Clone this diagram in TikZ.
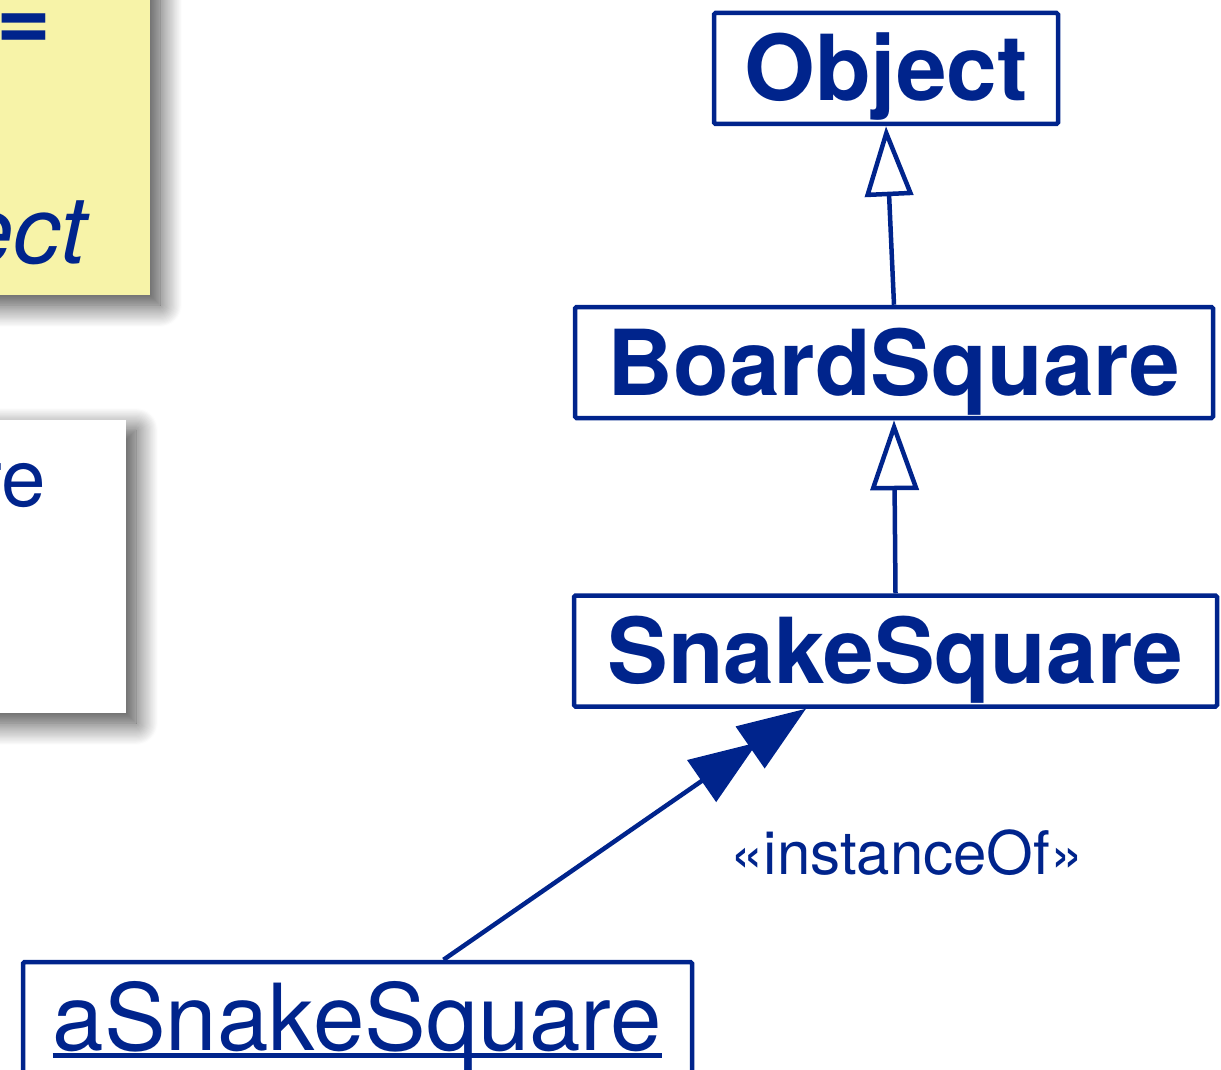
\documentclass[tikz,border=0pt]{standalone}
\usepackage{fontspec}
\setmainfont{TeX Gyre Heros}
\usetikzlibrary{positioning,arrows.meta,shadows.blur}
\definecolor{umlblue}{RGB}{0,36,140}
\definecolor{noteyellow}{RGB}{247,243,168}
\newcommand{\umlunderline}[1]{\setbox0\hbox{#1}\rlap{\rule[-8pt]{\wd0}{5pt}}\box0}

\begin{document}
\begin{tikzpicture}[%
    x=1pt, y=-1pt,
    classBox/.style={%
        draw=umlblue,
        line width=4.5pt,
        rounded corners=1.5pt,
        inner sep=0pt,
        minimum height=111pt,
        text height=65pt,
        text depth=0pt,
        text=umlblue,
        font=\fontsize{91}{100}\selectfont\bfseries
    },
    instanceBox/.style={%
        classBox,
        font=\fontsize{92.5}{100}\selectfont
    },
    slideNote/.style={%
        fill=noteyellow,
        inner sep=0pt,
        blur shadow={shadow xshift=10pt, shadow yshift=-10pt,
            shadow blur radius=22pt, shadow blur steps=20, shadow opacity=75}
    },
    whiteNote/.style={%
        slideNote,
        fill=white
    },
    noteText/.style={%
        inner sep=0pt,
        text=umlblue
    },
    stereo/.style={%
        inner sep=0pt,
        text=umlblue,
        text height=42pt,
        text depth=0pt,
        font=\fontsize{60}{66}\selectfont
    },
    genArrow/.style={%
        draw=umlblue,
        line width=4.5pt,
        -{Triangle[open, fill=white, length=70pt, width=48pt]}
    },
    instArrow/.style={%
        draw=umlblue,
        line width=4.5pt,
        -{Triangle[length=68pt, width=50pt, sep=-9pt]Triangle[length=68pt, width=50pt]}
    },
    >=stealth
]
\useasboundingbox (0,0) rectangle (1221,1070);
\clip (0,0) rectangle (1221,1070);

% Notes on the left (cut off)
    \node[slideNote, minimum width=200pt, minimum height=345pt] (yellowNote) at (50,122.5) {};
    \node[noteText, anchor=base east, font=\fontsize{94}{100}\selectfont\bfseries] (eqText) at (52,51) {=};
    \node[noteText, anchor=base east, font=\fontsize{94}{100}\selectfont\itshape] (ectText) at (87,263) {ect};
    \node[whiteNote, minimum width=176pt, minimum height=293pt] (whiteBox) at (38,566.5) {};
    \node[noteText, anchor=base east, font=\fontsize{80}{90}\selectfont] (reText) at (46,506) {re};

% Classes
    \node[classBox, minimum width=344pt] (object) at (886,68.5) {Object};
    \node[classBox, minimum width=638pt] (board) at (894,362.5) {BoardSquare};
    \node[classBox, minimum width=643pt] (snake) at (895.5,651) {SnakeSquare};

% Instance
    \node[instanceBox, minimum width=669pt] (inst) at (357.5,1017.5) {\umlunderline{aSnakeSquare}};
    \node[stereo] (instLabel) at (907,853) {«instanceOf»};

% Arrows
\draw[genArrow] (board.north) -- (object.south);
\draw[genArrow] (snake.north) -- (board.south);
\draw[instArrow] ([xshift=86pt]inst.north) -- ([xshift=-89.5pt]snake.south);

\end{tikzpicture}
\end{document}
